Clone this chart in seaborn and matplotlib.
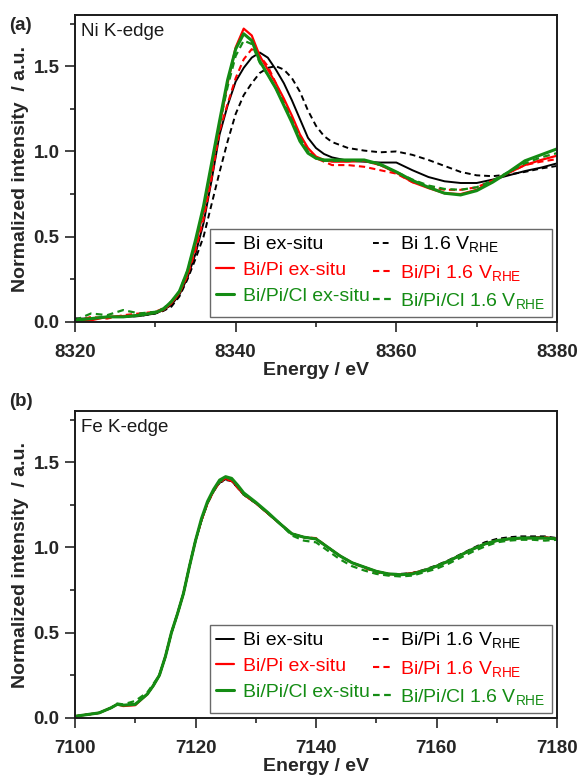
import matplotlib
matplotlib.use("Agg")
import matplotlib.pyplot as plt
import seaborn as sns
from matplotlib.ticker import MultipleLocator

# ---------------- data: panel (a) Ni K-edge ----------------
energy_a = [8320, 8322, 8324, 8326, 8328, 8330, 8331, 8332, 8333, 8334, 8335, 8336,
            8337, 8338, 8339, 8340, 8341, 8342, 8343, 8344, 8345, 8346, 8347, 8348,
            8349, 8350, 8351, 8352, 8354, 8356, 8358, 8360, 8362, 8364, 8366, 8368,
            8370, 8372, 8374, 8376, 8378, 8380]

ni_bi_ex = [0.02, 0.02, 0.03, 0.03, 0.035, 0.05, 0.07, 0.10, 0.16, 0.26, 0.40, 0.58,
            0.83, 1.10, 1.27, 1.41, 1.49, 1.55, 1.58, 1.55, 1.48, 1.40, 1.30, 1.19,
            1.08, 1.02, 0.985, 0.965, 0.945, 0.94, 0.935, 0.935, 0.89, 0.85, 0.825, 0.815,
            0.815, 0.835, 0.86, 0.885, 0.905, 0.93]
ni_bipi_ex = [0.0, 0.01, 0.03, 0.035, 0.04, 0.055, 0.07, 0.11, 0.17, 0.28, 0.45, 0.65,
              0.90, 1.15, 1.40, 1.61, 1.72, 1.68, 1.56, 1.48, 1.40, 1.31, 1.21, 1.10,
              1.02, 0.97, 0.95, 0.94, 0.94, 0.945, 0.92, 0.875, 0.82, 0.785, 0.755, 0.75,
              0.775, 0.825, 0.875, 0.92, 0.95, 0.975]
ni_bipicl_ex = [0.01, 0.02, 0.03, 0.03, 0.04, 0.055, 0.075, 0.12, 0.18, 0.30, 0.48, 0.68,
                0.93, 1.18, 1.42, 1.60, 1.69, 1.65, 1.53, 1.45, 1.37, 1.27, 1.17, 1.06,
                0.99, 0.96, 0.95, 0.95, 0.95, 0.95, 0.925, 0.88, 0.83, 0.79, 0.755, 0.745,
                0.77, 0.82, 0.88, 0.945, 0.98, 1.015]
ni_bi_16 = [0.02, 0.02, 0.03, 0.03, 0.035, 0.05, 0.065, 0.09, 0.15, 0.25, 0.37, 0.50,
            0.69, 0.88, 1.06, 1.22, 1.33, 1.40, 1.46, 1.49, 1.50, 1.48, 1.43, 1.35,
            1.24, 1.15, 1.09, 1.055, 1.02, 1.005, 0.995, 1.0, 0.98, 0.95, 0.915, 0.88,
            0.86, 0.855, 0.865, 0.88, 0.90, 0.915]
ni_bipi_16 = [0.0, 0.03, 0.02, 0.04, 0.05, 0.06, 0.08, 0.11, 0.17, 0.27, 0.42, 0.60,
              0.84, 1.12, 1.28, 1.43, 1.54, 1.60, 1.56, 1.50, 1.40, 1.29, 1.19, 1.09,
              1.01, 0.96, 0.94, 0.92, 0.92, 0.91, 0.89, 0.87, 0.82, 0.795, 0.775, 0.775,
              0.79, 0.83, 0.875, 0.92, 0.94, 0.955]
ni_bipicl_16 = [0.01, 0.05, 0.04, 0.07, 0.05, 0.06, 0.08, 0.12, 0.18, 0.30, 0.47, 0.67,
                0.92, 1.16, 1.38, 1.56, 1.65, 1.63, 1.52, 1.45, 1.37, 1.28, 1.18, 1.08,
                1.0, 0.96, 0.945, 0.945, 0.945, 0.945, 0.92, 0.88, 0.835, 0.80, 0.78, 0.775,
                0.79, 0.83, 0.88, 0.93, 0.965, 0.99]

labels_a = ["Bi ex-situ", "Bi/Pi ex-situ", "Bi/Pi/Cl ex-situ",
            r"Bi 1.6 V$_{\mathregular{RHE}}$", r"Bi/Pi 1.6 V$_{\mathregular{RHE}}$",
            r"Bi/Pi/Cl 1.6 V$_{\mathregular{RHE}}$"]

# ---------------- data: panel (b) Fe K-edge ----------------
energy_b = [7100, 7102, 7104, 7106, 7107, 7108, 7110, 7112, 7113, 7114, 7115, 7116,
            7117, 7118, 7119, 7120, 7121, 7122, 7123, 7124, 7125, 7126, 7127, 7128,
            7130, 7132, 7134, 7136, 7138, 7140, 7142, 7144, 7146, 7148, 7150, 7152,
            7154, 7156, 7158, 7160, 7162, 7164, 7166, 7168, 7170, 7172, 7174, 7176,
            7178, 7180]

fe_bi_ex = [0.01, 0.02, 0.03, 0.06, 0.08, 0.075, 0.08, 0.14, 0.19, 0.25, 0.36, 0.50,
            0.61, 0.73, 0.89, 1.04, 1.16, 1.26, 1.33, 1.38, 1.40, 1.39, 1.35, 1.31,
            1.26, 1.20, 1.14, 1.08, 1.06, 1.05, 1.00, 0.95, 0.91, 0.885, 0.86, 0.845,
            0.84, 0.85, 0.865, 0.89, 0.92, 0.955, 0.99, 1.02, 1.04, 1.05, 1.055, 1.06,
            1.06, 1.05]
fe_bipi_ex = [0.01, 0.02, 0.03, 0.06, 0.08, 0.07, 0.075, 0.14, 0.19, 0.25, 0.36, 0.50,
              0.61, 0.73, 0.89, 1.04, 1.16, 1.26, 1.33, 1.385, 1.405, 1.395, 1.355, 1.31,
              1.26, 1.20, 1.14, 1.08, 1.06, 1.05, 1.00, 0.95, 0.91, 0.885, 0.86, 0.845,
              0.84, 0.85, 0.865, 0.89, 0.92, 0.955, 0.99, 1.02, 1.04, 1.05, 1.055, 1.055,
              1.055, 1.05]
fe_bipicl_ex = [0.01, 0.02, 0.03, 0.06, 0.08, 0.075, 0.08, 0.14, 0.19, 0.25, 0.36, 0.50,
                0.61, 0.73, 0.89, 1.04, 1.17, 1.27, 1.34, 1.395, 1.415, 1.405, 1.365, 1.32,
                1.265, 1.205, 1.14, 1.08, 1.06, 1.05, 1.00, 0.95, 0.91, 0.885, 0.86, 0.845,
                0.84, 0.845, 0.865, 0.89, 0.92, 0.955, 0.99, 1.02, 1.04, 1.05, 1.055, 1.055,
                1.055, 1.05]
fe_bipi_16a = [0.01, 0.02, 0.03, 0.06, 0.08, 0.075, 0.08, 0.14, 0.19, 0.25, 0.36, 0.50,
               0.61, 0.73, 0.89, 1.04, 1.16, 1.26, 1.33, 1.38, 1.395, 1.39, 1.35, 1.31,
               1.26, 1.20, 1.14, 1.08, 1.06, 1.05, 1.00, 0.95, 0.91, 0.885, 0.86, 0.845,
               0.845, 0.85, 0.87, 0.895, 0.925, 0.96, 0.995, 1.03, 1.05, 1.06, 1.065, 1.065,
               1.065, 1.055]
fe_bipi_16b = [0.01, 0.02, 0.03, 0.06, 0.08, 0.075, 0.08, 0.14, 0.19, 0.25, 0.36, 0.50,
               0.61, 0.73, 0.89, 1.04, 1.16, 1.26, 1.33, 1.385, 1.40, 1.39, 1.35, 1.31,
               1.26, 1.20, 1.14, 1.08, 1.06, 1.055, 1.00, 0.95, 0.91, 0.88, 0.855, 0.84,
               0.84, 0.845, 0.865, 0.89, 0.92, 0.955, 0.99, 1.02, 1.04, 1.05, 1.055, 1.055,
               1.06, 1.05]
fe_bipicl_16 = [0.01, 0.02, 0.03, 0.06, 0.085, 0.08, 0.10, 0.15, 0.20, 0.25, 0.36, 0.50,
                0.61, 0.73, 0.89, 1.04, 1.16, 1.26, 1.33, 1.385, 1.41, 1.40, 1.36, 1.31,
                1.26, 1.20, 1.14, 1.07, 1.04, 1.03, 0.98, 0.93, 0.89, 0.865, 0.845, 0.835,
                0.83, 0.835, 0.855, 0.875, 0.905, 0.94, 0.975, 1.005, 1.03, 1.04, 1.045, 1.045,
                1.04, 1.045]

labels_b = ["Bi ex-situ", "Bi/Pi ex-situ", "Bi/Pi/Cl ex-situ",
            r"Bi/Pi 1.6 V$_{\mathregular{RHE}}$", r"Bi/Pi 1.6 V$_{\mathregular{RHE}}$",
            r"Bi/Pi/Cl 1.6 V$_{\mathregular{RHE}}$"]

# ---------------- styling ----------------
sns.set_style("ticks")
plt.rcParams['font.family'] = ['Liberation Sans', 'DejaVu Sans']
plt.rcParams['mathtext.fontset'] = 'custom'
plt.rcParams['mathtext.rm'] = 'Liberation Sans'
plt.rcParams['mathtext.it'] = 'Liberation Sans:italic'
plt.rcParams['mathtext.bf'] = 'Liberation Sans:bold'

BLACK = "#000000"
RED = "#ff0000"
GREEN = "#148c14"
colors = [BLACK, RED, GREEN, BLACK, RED, GREEN]
styles = ["-", "-", "-", "--", "--", "--"]
widths = [1.4, 1.6, 2.2, 1.4, 1.5, 1.6]
draw_order = [3, 0, 4, 1, 5, 2]

fig = plt.figure(figsize=(5.82, 7.77), dpi=100)
ax_a = fig.add_axes([75 / 582, 1 - 322 / 777, 482 / 582, 307 / 777])
ax_b = fig.add_axes([75 / 582, 1 - 718 / 777, 482 / 582, 307 / 777])


def draw_panel(ax, energy, series, labels, xlim, edge_text):
    handles = [None] * 6
    for i in draw_order:
        sns.lineplot(x=energy, y=series[i], ax=ax, color=colors[i], lw=widths[i],
                     legend=False, estimator=None, sort=False)
        line = ax.lines[-1]
        if styles[i] == "--":
            line.set_dashes((3, 2))
        handles[i] = line
    ax.set_xlim(*xlim)
    ax.set_ylim(0, 1.8)
    ax.xaxis.set_major_locator(MultipleLocator(20))
    ax.xaxis.set_minor_locator(MultipleLocator(10))
    ax.yaxis.set_major_locator(MultipleLocator(0.5))
    ax.yaxis.set_minor_locator(MultipleLocator(0.25))
    ax.yaxis.set_major_formatter(plt.FormatStrFormatter('%.1f'))
    ax.tick_params(which='major', direction='out', length=7, width=1.2,
                   labelsize=13.5, top=False, right=False)
    ax.tick_params(axis='x', which='major', pad=9)
    ax.tick_params(axis='y', which='major', pad=4)
    ax.tick_params(which='minor', direction='out', length=3.5, width=1.2,
                   top=False, right=False)
    for lab in ax.get_xticklabels() + ax.get_yticklabels():
        lab.set_fontweight('bold')
    for sp in ax.spines.values():
        sp.set_visible(True)
        sp.set_linewidth(1.4)
        sp.set_color('#1a1a1a')
    ax.set_xlabel("Energy / eV", fontsize=14, fontweight='bold')
    ax.set_ylabel("Normalized intensity  / a.u.", fontsize=14, fontweight='bold')
    ax.xaxis.set_label_coords(0.5, -0.13)
    ax.yaxis.set_label_coords(-0.095, 0.5)
    ax.text(0.012, 0.932, edge_text, transform=ax.transAxes, fontsize=13.5,
            va='baseline', ha='left', color='#1a1a1a')
    leg = ax.legend(handles, labels, ncol=2, loc='lower right',
                    bbox_to_anchor=(1, 0), borderaxespad=0.28, frameon=True,
                    fancybox=False, edgecolor='#444444', fontsize=14,
                    handlelength=0.9, handletextpad=0.5, columnspacing=0.15,
                    labelspacing=0.42, borderpad=0.3)
    leg.get_frame().set_linewidth(1.0)
    for txt, c in zip(leg.get_texts(), colors):
        txt.set_color(c)


draw_panel(ax_a, energy_a,
           [ni_bi_ex, ni_bipi_ex, ni_bipicl_ex, ni_bi_16, ni_bipi_16, ni_bipicl_16],
           labels_a, (8320, 8380), "Ni K-edge")
draw_panel(ax_b, energy_b,
           [fe_bi_ex, fe_bipi_ex, fe_bipicl_ex, fe_bipi_16a, fe_bipi_16b, fe_bipicl_16],
           labels_b, (7100, 7180), "Fe K-edge")

fig.text(9 / 582, 1 - 25 / 777, "(a)", fontsize=13.5, fontweight='bold',
         ha='left', va='center')
fig.text(9 / 582, 1 - 401 / 777, "(b)", fontsize=13.5, fontweight='bold',
         ha='left', va='center')

fig.savefig("out.png", dpi=100)
